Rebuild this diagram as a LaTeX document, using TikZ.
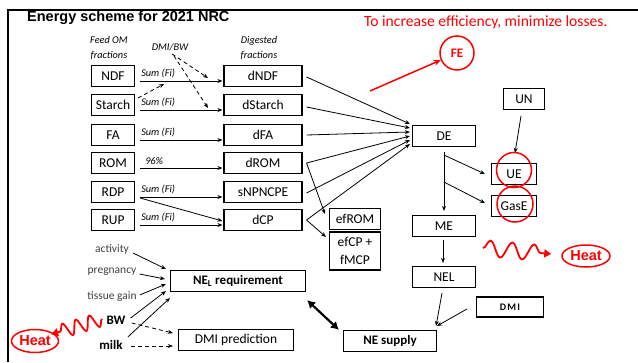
\documentclass[tikz,border=0pt]{standalone}
\usepackage{fontspec}
\setmainfont{Carlito}
\newfontfamily\arialfont{Liberation Sans}
\usetikzlibrary{positioning, arrows.meta, calc, shapes.geometric, decorations.pathmorphing}
\tikzset{
  caja/.style={rectangle, draw=black, line width=1.1pt, minimum height=21pt, inner sep=0pt, text centered, font=\fontsize{13.5}{15}\selectfont},
  etiq/.style={inner sep=0pt, font=\fontsize{10.3}{15}\selectfont\itshape, align=center},
  gris/.style={inner sep=0pt, text=black!75, font=\fontsize{11.5}{13}\selectfont},
  flecha/.style={line width=0.8pt, -{Stealth[length=5pt,width=4pt]}},
  rayas/.style={flecha, dash pattern=on 4pt off 3pt},
  perdida/.style={draw=red, line width=1.5pt, inner sep=0pt},
  calor/.style={perdida, ellipse, text=red, font=\arialfont\bfseries\fontsize{14.5}{16}\selectfont},
  onda/.style={red, line width=1.8pt, decorate, -{Triangle[length=7pt,width=8pt]}}
}

\begin{document}
\begin{tikzpicture}[x=1pt, y=-1pt]
    \useasboundingbox (0,0) rectangle (638,362);

    % Marco y titulo
    \draw[line width=2.5pt] (8,362) -- (8,10) -- (638,10);
    \node[anchor=west, inner sep=0pt, font=\arialfont\bfseries\fontsize{14.5}{16}\selectfont] (titulo) at (27,18) {Energy scheme for 2021 NRC};
    \node[anchor=west, inner sep=0pt, text=red, font=\fontsize{15.6}{17}\selectfont] (meta) at (364,22) {To increase efficiency, minimize losses.};

    % Encabezados de columnas
    \node[etiq] (feedom) at (109,48) {Feed OM\\fractions};
    \node[etiq] (dmibw) at (170,47) {DMI/BW};
    \node[etiq] (digest) at (259,48) {Digested\\fractions};

    % Fracciones del alimento y fracciones digeridas (fila por fila)
    \foreach \fuente/\dig/\yy/\lab in {NDF/dNDF/76/{Sum (Fi)}, Starch/dStarch/105/{Sum (Fi)}, FA/dFA/135/{Sum (Fi)}, ROM/dROM/163/{\hspace{4pt}96\%}, RDP/sNPNCPE/192/{Sum (Fi)}, RUP/dCP/220/{Sum (Fi)}} {
        \node[caja, minimum width=43pt] (\fuente) at (113,\yy) {\fuente};
        \node[caja, minimum width=78pt] (\dig) at (263,\yy) {\dig};
        \draw[flecha] ($(\fuente.east)+(5,5)$) -- ($(\dig.west)+(-1,5)$);
        \node[etiq, anchor=south west] (l\fuente) at ($(\fuente.east)+(6,2)$) {\lab};
    }
    \draw[flecha] ($(RDP.east)+(5,6)$) -- ($(dCP.west)+(-1,1)$);

    % Flechas de DMI/BW (discontinuas)
    \coordinate (pNDF) at (208,78);
    \coordinate (pStarch) at (208,108);
    \coordinate (pSum) at (164,84);
    \draw[rayas] ($(dmibw.south)+(2,3)$) -- (pNDF);
    \draw[rayas] ($(dmibw.south)+(4,5)$) -- (pStarch);
    \draw[rayas] ($(Starch.north east)+(3,4)$) -- (pSum);

    % Energia digestible y derivadas
    \node[caja, minimum width=63pt] (DE) at (444,136) {DE};
    \node[caja, minimum width=51pt] (efROM) at (355,219) {efROM};
    \node[caja, minimum width=51pt, minimum height=38pt, align=center, font=\fontsize{13.5}{18}\selectfont] (efCP) at (355,251) {efCP +\\fMCP};
    \node[caja, minimum width=41pt] (UN) at (524,99) {UN};
    \node[caja, minimum width=45pt] (UE) at (514,174) {UE};
    \node[caja, minimum width=45pt] (GasE) at (514,206) {GasE};
    \node[caja, minimum width=63pt] (ME) at (444,226) {ME};
    \node[caja, minimum width=63pt] (NEL) at (444,277) {NEL};
    \node[caja, minimum width=67pt, minimum height=20pt, font=\bfseries\fontsize{10}{11}\selectfont] (DMI) at (510,307) {D\kern1.2pt M\kern1.2pt I};
    \node[caja, minimum width=93pt, font=\bfseries\fontsize{13}{15}\selectfont] (sup) at (390,341) {NE supply};
    \node[caja, minimum width=135pt, font=\bfseries\fontsize{13}{15}\selectfont] (req) at (238,281) {NE\textsubscript{\fontsize{9}{9}\selectfont L} requirement};
    \node[caja, minimum width=115pt] (pred) at (236,340) {DMI prediction};

    % Flechas hacia DE
    \draw[flecha] ($(dNDF.east)+(4,1)$) -- ($(DE.west)+(-2,-12)$);
    \draw[flecha] ($(dStarch.east)+(4,2)$) -- ($(DE.west)+(-2,-8)$);
    \draw[flecha] ($(dFA.east)+(4,0)$) -- ($(DE.west)+(-2,-4)$);
    \draw[flecha] ($(dROM.east)+(4,0)$) -- ($(DE.west)+(-2,0)$);
    \draw[flecha] ($(sNPNCPE.east)+(4,1)$) -- ($(DE.west)+(-2,4)$);
    \draw[flecha] ($(dCP.east)+(4,0)$) -- ($(DE.west)+(-2,8)$);
    \draw[flecha] ($(dROM.east)+(4,0)$) -- ($(efROM.west)+(-4,-5)$);
    \draw[flecha] ($(dCP.east)+(4,0)$) -- ($(efCP.west)+(-3,-14)$);

    % Perdidas: orina y gas
    \coordinate (bUE) at ($(DE.south)+(0,8)$);
    \coordinate (bGas) at ($(DE.south)+(0,35)$);
    \draw[flecha] ($(DE.south)+(0,5)$) -- ($(ME.north)+(0,-4)$);
    \draw[flecha] (bUE) -- ($(UE.west)+(-6,0)$);
    \draw[flecha] (bGas) -- ($(GasE.west)+(-6,-3)$);
    \draw[flecha] ($(UN.south)+(-3,6)$) -- ($(UE.north)+(1,-10)$);
    \node[perdida, circle, minimum size=35pt] (cUE) at (514,170) {};
    \node[perdida, circle, minimum size=36pt] (cGas) at (515,204) {};

    % Energia neta
    \draw[flecha] ($(ME.south)+(-1,3)$) -- ($(NEL.north)+(-1,-3)$);
    \draw[flecha] ($(NEL.south)+(-2,5)$) -- ($(sup.north east)+(-1,-4)$);
    \draw[flecha] ($(DMI.west)+(-9,2)$) -- ($(sup.north east)+(0,-4)$);
    \draw[line width=2.2pt, {Latex[length=8pt,width=9pt]}-{Latex[length=8pt,width=9pt]}] ($(req.south east)+(1,8)$) -- ($(sup.north west)+(-4,0)$);

    % Requerimientos
    \node[gris] (act) at (112,249) {activity};
    \node[gris] (preg) at (112,272) {pregnancy};
    \node[gris] (tis) at (112,297) {tissue gain};
    \node[inner sep=0pt, font=\bfseries\fontsize{13}{14}\selectfont] (bw) at (116,320) {BW};
    \node[inner sep=0pt, font=\bfseries\fontsize{13}{14}\selectfont] (milk) at (111,345) {milk};
    \draw[flecha] ($(act.east)+(4,4)$) -- ($(req.west)+(-4,-12)$);
    \draw[flecha] ($(preg.east)+(3,2)$) -- ($(req.west)+(-5,-2)$);
    \draw[flecha] ($(tis.east)+(3,-2)$) -- ($(req.west)+(-4,3)$);
    \draw[flecha] ($(bw.east)+(5,-2)$) -- ($(req.west)+(-4,10)$);
    \draw[flecha] ($(milk.east)+(5,-8)$) -- ($(req.west)+(0,17)$);
    \draw[rayas] ($(bw.east)+(6,3)$) -- ($(pred.west)+(-5,-7)$);
    \draw[rayas] ($(milk.east)+(8,1)$) -- ($(pred.west)+(-5,6)$);

    % Eficiencia y calor (rojo)
    \node[perdida, circle, minimum size=34pt, text=red, font=\bfseries\fontsize{13}{14}\selectfont] (FE) at (457,53) {FE};
    \coordinate (colaFE) at (370,91);
    \draw[red, line width=1.5pt, -{Stealth[length=7pt,width=6pt]}] (colaFE) -- (FE);
    \node[calor, minimum width=48pt, minimum height=22pt] (heatR) at (586,256) {Heat};
    \node[calor, minimum width=47pt, minimum height=23pt] (heatL) at (35,341) {Heat};
    \coordinate (ondaR) at (483,248);
    \coordinate (ondaL) at (102,319);
    \draw[onda, decoration={snake, amplitude=8pt, segment length=22pt, post length=6pt}] (ondaR) -- ($(heatR.west)+(-10,-2)$);
    \draw[onda, decoration={snake, amplitude=7pt, segment length=14pt, post length=5pt}] (ondaL) -- ($(heatL.north east)+(-1,2)$);
\end{tikzpicture}
\end{document}
